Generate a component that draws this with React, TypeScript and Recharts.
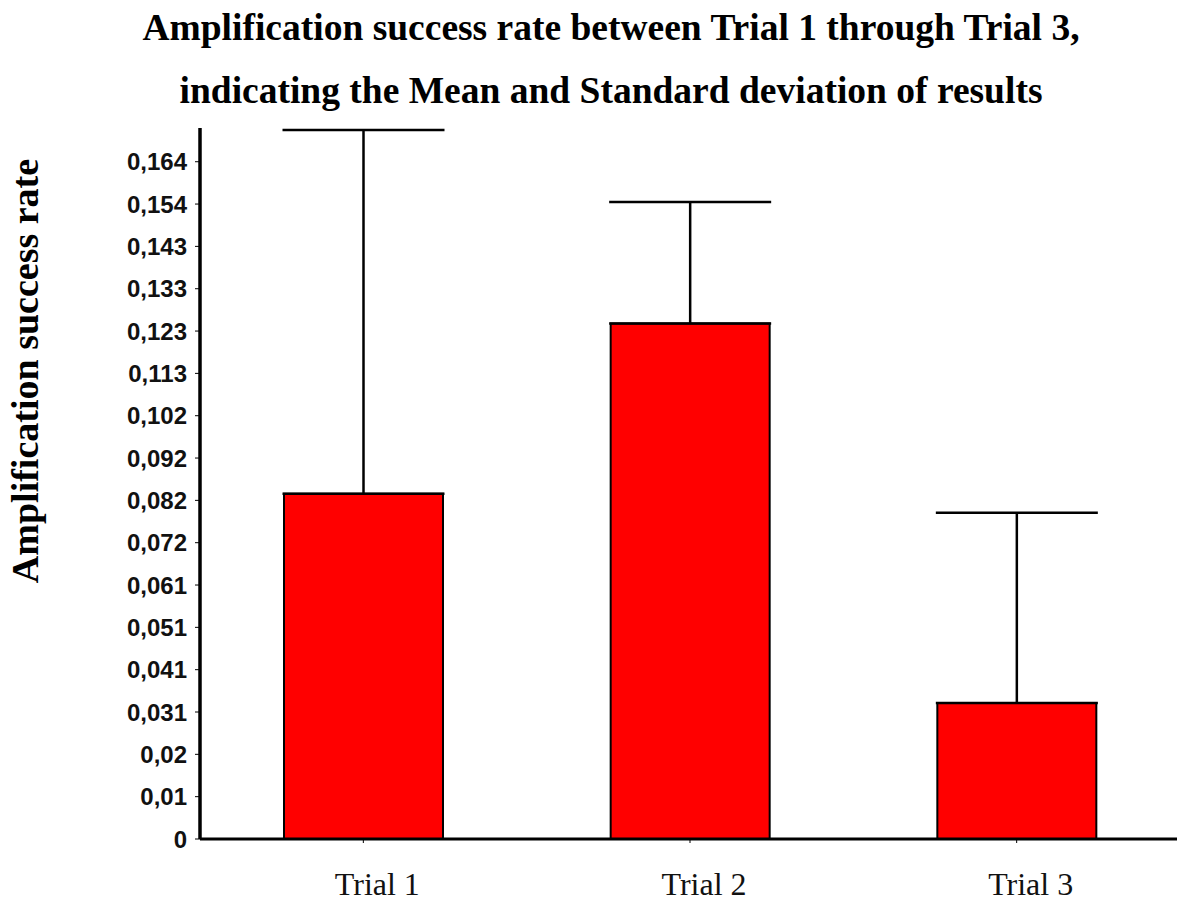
import React from 'react';
import { BarChart, Bar, XAxis, YAxis, ErrorBar } from 'recharts';

const categories = ['Trial 1', 'Trial 2', 'Trial 3'];
const means = [0.0835, 0.1247, 0.0329];
const stdDevs = [0.088, 0.0294, 0.046];

const yTickValues = [0, 0.01024, 0.02048, 0.03072, 0.04096, 0.0512, 0.06144, 0.07168, 0.08192, 0.09216, 0.1024, 0.11264, 0.12288, 0.13312, 0.14336, 0.1536, 0.16384];
const yTickLabels = ['0', '0,01', '0,02', '0,031', '0,041', '0,051', '0,061', '0,072', '0,082', '0,092', '0,102', '0,113', '0,123', '0,133', '0,143', '0,154', '0,164'];

const titleLines = [
  'Amplification success rate between Trial 1 through Trial 3,',
  'indicating the Mean and Standard deviation of results',
];
const yAxisTitle = 'Amplification success rate';

const data = categories.map((name, i) => ({
  name,
  mean: means[i],
  err: [0, stdDevs[i]],
}));

const serif = '"Liberation Serif", "Times New Roman", serif';
const sans = '"Liberation Sans", Arial, sans-serif';

const XTick = (props: any) => {
  const { x, y, payload } = props;
  return (
    <text x={x + 14} y={y} dy={22} textAnchor="middle" fontFamily={serif} fontSize={32} fill="#111">
      {payload.value}
    </text>
  );
};

export default function App() {
  return (
    <div style={{ position: 'absolute', left: 0, top: 0, width: 1177, height: 902, overflow: 'hidden', background: '#fff' }}>
      <BarChart
        width={1185}
        height={902}
        data={data}
        margin={{ top: 128, right: 5, bottom: 3, left: 70 }}
        barSize={159}
      >
        <XAxis
          dataKey="name"
          axisLine={{ stroke: '#000', strokeWidth: 3 }}
          tickLine={{ stroke: '#000', strokeWidth: 1 }}
          tickSize={4}
          tickMargin={30}
          height={60}
          tick={<XTick />}
        />
        <YAxis
          type="number"
          domain={[0, 0.172]}
          ticks={yTickValues}
          interval={0}
          width={130}
          axisLine={{ stroke: '#000', strokeWidth: 3.5 }}
          tickLine={{ stroke: '#000', strokeWidth: 1 }}
          tickSize={5}
          tickMargin={8}
          tickFormatter={(v: number, i: number) => yTickLabels[i]}
          tick={{ fontFamily: sans, fontWeight: 'bold', fontSize: 24, fill: '#111' }}
        />
        <Bar dataKey="mean" fill="#FF0000" stroke="#000" strokeWidth={2} isAnimationActive={false}>
          <ErrorBar dataKey="err" width={81} stroke="#000" strokeWidth={2.5} direction="y" />
        </Bar>
      </BarChart>
      <svg width={1177} height={902} style={{ position: 'absolute', left: 0, top: 0, pointerEvents: 'none' }}>
        <text x={611} y={40} textAnchor="middle" fontFamily={serif} fontWeight="bold" fontSize={37.5} fill="#000">
          {titleLines[0]}
        </text>
        <text x={611} y={103} textAnchor="middle" fontFamily={serif} fontWeight="bold" fontSize={37.5} fill="#000">
          {titleLines[1]}
        </text>
        <text
          x={38}
          y={371}
          textAnchor="middle"
          fontFamily={serif}
          fontWeight="bold"
          fontSize={38}
          fill="#000"
          transform="rotate(-90 38 371)"
        >
          {yAxisTitle}
        </text>
      </svg>
    </div>
  );
}
